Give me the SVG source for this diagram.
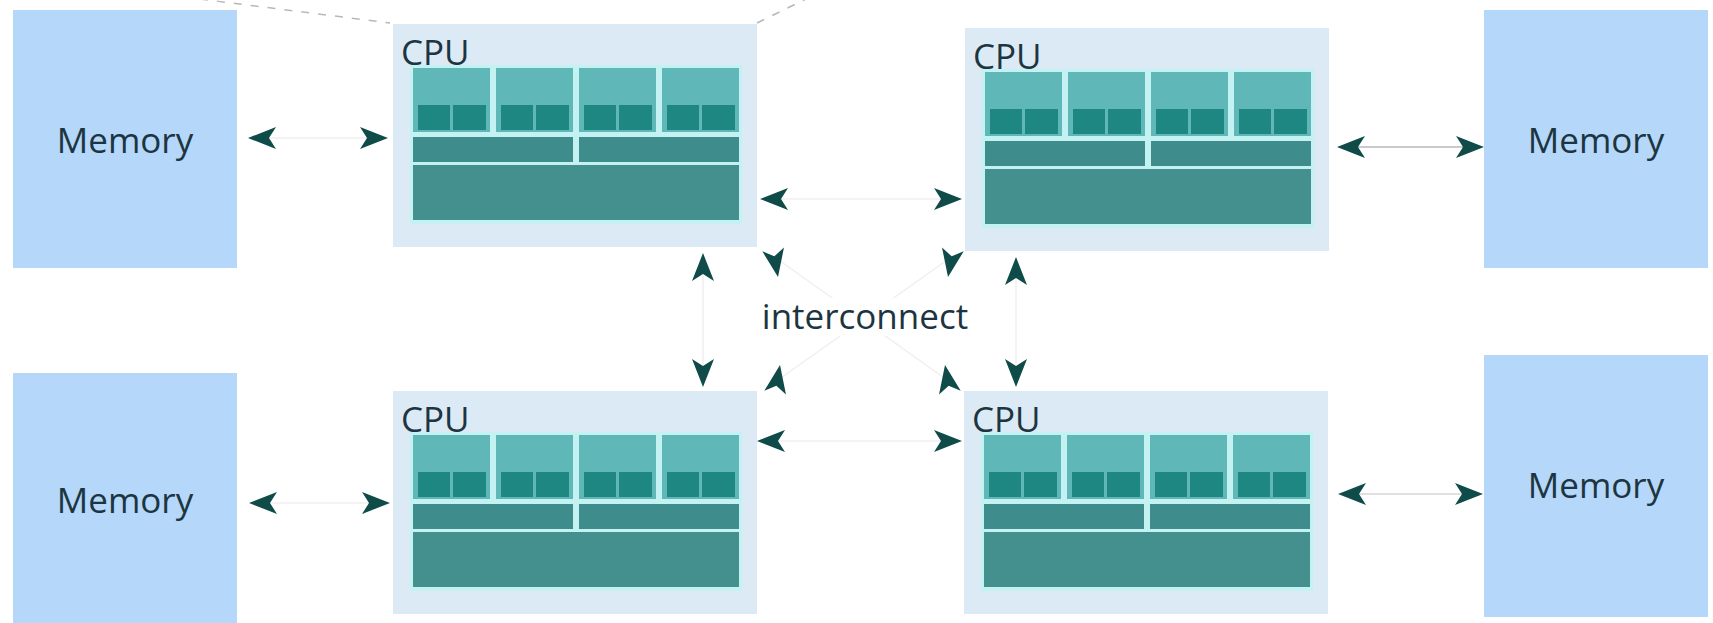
<svg xmlns="http://www.w3.org/2000/svg" xmlns:xlink="http://www.w3.org/1999/xlink" width="1713" height="623" viewBox="0 0 1713 623">
<style>
.mem{fill:#b4d7fa}
.cpu-outer{fill:#dceaf6}
.inner-bg{fill:#c4f1f1}
.core{fill:#60b7b7}
.l1{fill:#1f8782}
.l2{fill:#3e8c8b}
.l3{fill:#44908f}
.lbl{font-family:"Open Sans","DejaVu Sans",sans-serif;font-size:35px;fill:#1d3540}
.conn{stroke:#efefef;stroke-width:1.5;fill:none}
.conn-vis{stroke:#b9b9b9;stroke-width:1.5;fill:none}
.conn-mid{stroke:#d6d6d6;stroke-width:1.5;fill:none}
.dash{stroke:#b8b8b8;stroke-width:1.5;fill:none;stroke-dasharray:8 9}
.ah{fill:#0f4b48}
</style>
<defs>
<path id="ah" class="ah" d="M0,0 L-28,-11 L-21,0 L-28,11 Z"/>
<g id="cpu-body">
<rect class="cpu-outer" x="0" y="0" width="364" height="223"/>
<rect class="inner-bg" x="17" y="41" width="332" height="159"/>
<rect class="core" x="20" y="44" width="77" height="64"/>
<rect class="l1" x="25" y="81" width="32" height="25"/>
<rect class="l1" x="60" y="81" width="33" height="25"/>
<rect class="core" x="103" y="44" width="77" height="64"/>
<rect class="l1" x="108" y="81" width="32" height="25"/>
<rect class="l1" x="143" y="81" width="33" height="25"/>
<rect class="core" x="186" y="44" width="77" height="64"/>
<rect class="l1" x="191" y="81" width="32" height="25"/>
<rect class="l1" x="226" y="81" width="33" height="25"/>
<rect class="core" x="269" y="44" width="77" height="64"/>
<rect class="l1" x="274" y="81" width="32" height="25"/>
<rect class="l1" x="309" y="81" width="33" height="25"/>
<rect class="l2" x="20" y="113" width="160" height="25"/>
<rect class="l2" x="186" y="113" width="160" height="25"/>
<rect class="l3" x="20" y="141" width="326" height="55"/>
</g>
</defs>

<rect width="1713" height="623" fill="#ffffff"/>

<g id="callout-lines">
<line class="dash" x1="200" y1="-1" x2="390" y2="23"/>
<line class="dash" x1="757" y1="23" x2="808" y2="-2" stroke-dasharray="3 7"/>
</g>

<g id="memory-tl"><rect class="mem" x="13" y="10" width="224" height="258"/><text class="lbl" x="125" y="153" text-anchor="middle">Memory</text></g>
<g id="memory-tr"><rect class="mem" x="1484" y="10" width="224" height="258"/><text class="lbl" x="1596" y="153" text-anchor="middle">Memory</text></g>
<g id="memory-bl"><rect class="mem" x="13" y="373" width="224" height="270"/><text class="lbl" x="125" y="513" text-anchor="middle">Memory</text></g>
<g id="memory-br"><rect class="mem" x="1484" y="355" width="224" height="262"/><text class="lbl" x="1596" y="498" text-anchor="middle">Memory</text></g>

<g id="cpu-tl" transform="translate(393,24)"><use xlink:href="#cpu-body" href="#cpu-body"/><text class="lbl" x="8" y="41">CPU</text></g>
<g id="cpu-tr" transform="translate(965,28)"><use xlink:href="#cpu-body" href="#cpu-body"/><text class="lbl" x="8" y="41">CPU</text></g>
<g id="cpu-bl" transform="translate(393,391)"><use xlink:href="#cpu-body" href="#cpu-body"/><text class="lbl" x="8" y="41">CPU</text></g>
<g id="cpu-br" transform="translate(964,391)"><use xlink:href="#cpu-body" href="#cpu-body"/><text class="lbl" x="8" y="41">CPU</text></g>

<g id="connectors">
<line class="conn" x1="270" y1="138" x2="368" y2="138"/>
<line class="conn-vis" x1="1358" y1="147" x2="1464" y2="147"/>
<line class="conn" x1="271" y1="503" x2="370" y2="503"/>
<line class="conn-mid" x1="1359" y1="494" x2="1463" y2="494"/>
<line class="conn" x1="780" y1="199" x2="942" y2="199"/>
<line class="conn" x1="777" y1="441" x2="942" y2="441"/>
<line class="conn" x1="703" y1="275" x2="703" y2="366"/>
<line class="conn" x1="1016" y1="279" x2="1016" y2="366"/>
<line class="conn" x1="776" y1="258" x2="947" y2="380"/>
<line class="conn" x1="950" y1="258" x2="778" y2="380"/>
<use href="#ah" xlink:href="#ah" transform="translate(248,138) rotate(180)"/>
<use href="#ah" xlink:href="#ah" transform="translate(388,138)"/>
<use href="#ah" xlink:href="#ah" transform="translate(1337,147) rotate(180)"/>
<use href="#ah" xlink:href="#ah" transform="translate(1484,147)"/>
<use href="#ah" xlink:href="#ah" transform="translate(249,503) rotate(180)"/>
<use href="#ah" xlink:href="#ah" transform="translate(390,503)"/>
<use href="#ah" xlink:href="#ah" transform="translate(1338,494) rotate(180)"/>
<use href="#ah" xlink:href="#ah" transform="translate(1483,494)"/>
<use href="#ah" xlink:href="#ah" transform="translate(760,199) rotate(180)"/>
<use href="#ah" xlink:href="#ah" transform="translate(962,199)"/>
<use href="#ah" xlink:href="#ah" transform="translate(757,441) rotate(180)"/>
<use href="#ah" xlink:href="#ah" transform="translate(962,441)"/>
<use href="#ah" xlink:href="#ah" transform="translate(703,253) rotate(-90)"/>
<use href="#ah" xlink:href="#ah" transform="translate(703,387) rotate(90)"/>
<use href="#ah" xlink:href="#ah" transform="translate(1016,257) rotate(-90)"/>
<use href="#ah" xlink:href="#ah" transform="translate(1016,387) rotate(90)"/>
<use href="#ah" xlink:href="#ah" transform="translate(778,277) rotate(80)"/>
<use href="#ah" xlink:href="#ah" transform="translate(948,277) rotate(100)"/>
<use href="#ah" xlink:href="#ah" transform="translate(780,365) rotate(-80)"/>
<use href="#ah" xlink:href="#ah" transform="translate(945,365) rotate(-100)"/>
</g>

<g id="interconnect">
<rect x="752" y="298" width="226" height="38" fill="#ffffff" opacity="0.85"/>
<text class="lbl" x="865" y="329" text-anchor="middle">interconnect</text>
</g>
</svg>
